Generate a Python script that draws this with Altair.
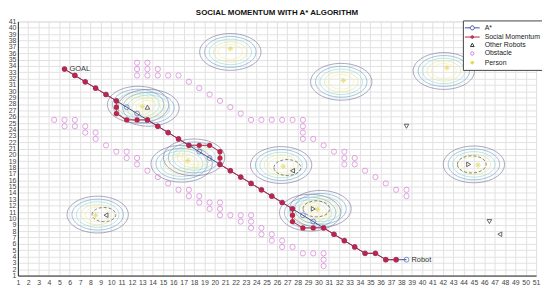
import altair as alt
import pandas as pd

# ---------------- data ----------------
obs_x = [4.5, 5.5, 6.5, 5.5, 6.5, 7.5, 7.5, 8.5, 8.5, 9.5, 10.5, 11.5, 11.5, 12.5, 12.5,
         13.5, 14.5, 15.5, 16.5, 17.5, 17.5, 18.5, 18.5, 19.5, 20.5, 19.5, 20.5, 20.5,
         21.5, 22.5, 23.5, 22.5, 23.5, 23.5, 24.5, 24.5, 25.5, 25.5, 26.5, 26.5, 27.5,
         28.5, 29.5, 30.5, 30.5, 30.5,
         12.5, 13.5, 12.5, 13.5, 14.5, 12.5, 13.5, 14.5, 15.5, 16.5, 17.5, 18.5, 19.5,
         20.5, 21.5, 22.5, 23.5, 24.5, 25.5, 26.5, 27.5, 28.5, 28.5, 28.5, 28.5, 29.5,
         30.5, 31.5, 32.5, 32.5, 33.5, 32.5, 33.5, 34.5, 35.5, 36.5, 37.5, 38.5, 38.5]
obs_y = [25.5, 25.5, 25.5, 24.5, 24.5, 24.5, 23.5, 23.5, 22.5, 21.5, 20.5, 20.5, 19.5, 19.5, 18.5,
         17.5, 16.5, 15.5, 14.5, 14.5, 13.5, 13.5, 12.5, 12.5, 12.5, 11.5, 11.5, 10.5,
         10.5, 10.5, 10.5, 9.5, 9.5, 8.5, 8.5, 7.5, 7.5, 6.5, 6.5, 5.5, 5.5,
         4.5, 4.5, 4.5, 3.5, 2.5,
         34.5, 34.5, 33.5, 33.5, 33.5, 32.5, 32.5, 32.5, 32.5, 32.5, 31.5, 30.5, 29.5,
         28.5, 27.5, 26.5, 25.5, 25.5, 25.5, 25.5, 25.5, 25.5, 24.5, 23.5, 22.5, 22.5,
         21.5, 20.5, 20.5, 19.5, 19.5, 18.5, 18.5, 17.5, 16.5, 15.5, 14.5, 14.5, 13.5]

sm_x = [5.5, 6.5, 7.5, 8.5, 9.5, 10.5, 10.5, 10.5, 11.5, 12.5, 13.5, 14.5, 15.5, 16.5,
        17.5, 18.5, 19.5, 20.5, 20.5, 20.5, 21.5, 22.5, 23.5, 24.5, 25.5, 26.5, 27.5,
        27.5, 27.5, 28.5, 29.5, 30.5, 31.5, 32.5, 33.5, 34.5, 35.5, 36.5, 37.5]
sm_y = [33.5, 32.5, 31.5, 30.5, 29.5, 28.5, 27.5, 26.5, 25.5, 25.5, 25.5, 24.5, 23.5, 22.5,
        21.5, 21.5, 21.5, 20.5, 19.5, 18.5, 17.5, 16.5, 15.5, 14.5, 13.5, 12.5, 11.5,
        10.5, 9.5, 8.5, 8.5, 8.5, 7.5, 6.5, 5.5, 4.5, 4.5, 3.5, 3.5]

astar_x = [38.5, 37.5, 36.5, 35.5, 34.5, 33.5, 32.5, 31.5, 30.5, 29.5, 28.5, 27.5, 26.5,
           25.5, 24.5, 23.5, 22.5, 21.5, 20.5, 19.5, 18.5, 17.5, 16.5, 15.5, 14.5, 13.5,
           12.5, 11.5, 10.5, 9.5, 8.5, 7.5, 6.5, 5.5]
astar_y = [3.5, 3.5, 3.5, 4.5, 4.5, 5.5, 6.5, 7.5, 8.5, 9.5, 10.5, 11.5, 12.5,
           13.5, 14.5, 15.5, 16.5, 17.5, 18.5, 19.5, 20.5, 21.5, 22.5, 23.5, 24.5, 25.5,
           26.5, 27.5, 28.5, 29.5, 30.5, 31.5, 32.5, 33.5]

robot_x = [13.5, 9.5, 27.5, 29.5, 44.5, 46.5, 47.5, 38.5]
robot_y = [27.5, 10.5, 17.5, 11.5, 18.5, 9.5, 7.5, 24.5]
robot_dir = ["triangle-up", "triangle-left", "triangle-left", "triangle-right",
             "triangle-right", "triangle-down", "triangle-left", "triangle-down"]

person_cx = [21.5, 32.2, 42.1, 12.6, 13.6, 16.8, 18.0, 26.4, 8.7, 29.2, 30.2, 45.0]
person_cy = [36.2, 31.5, 33.2, 27.9, 27.4, 18.6, 19.6, 18.4, 10.6, 10.9, 11.5, 18.5]
ring_w = [62, 52, 43, 34, 25]
ring_col = ["#77749c", "#6aa3c8", "#95d6d6", "#dce6a2", "#f5ef9c"]

star_x = [21.5, 32.4, 42.4, 13.0, 17.4, 26.6, 8.5, 29.9, 45.4]
star_y = [36.7, 31.7, 33.7, 27.6, 19.1, 18.2, 10.5, 11.4, 18.4]

dash_x = [9.3, 27.0, 29.8, 44.8]
dash_y = [10.6, 18.0, 11.5, 18.5]
dash_w = [24, 27, 27, 29]

labels_text = ["GOAL", "Robot"]
labels_x = [5.5, 38.5]
labels_y = [33.5, 3.5]

legend_names = ["A*", "Social Momentum", "Other Robots", "Obstacle", "Person"]
legend_colors = ["#3f4f9f", "#b8264a", "#333333", "#cf70d2", "#e3d440"]

# ---------------- tables ----------------
obs = pd.DataFrame({"x": obs_x, "y": obs_y})
sm = pd.DataFrame({"x": sm_x, "y": sm_y, "i": range(len(sm_x))})
astar = pd.DataFrame({"x": astar_x, "y": astar_y, "i": range(len(astar_x))})
robots = pd.DataFrame({"x": robot_x, "y": robot_y, "dir": robot_dir})
rows = []
for cx, cy in zip(person_cx, person_cy):
    for w, c in zip(ring_w, ring_col):
        rows.append({"x": cx, "y": cy, "size": w * w, "col": c})
rings = pd.DataFrame(rows)
stars = pd.DataFrame({"x": star_x, "y": star_y})
dashes = pd.DataFrame({"x": dash_x, "y": dash_y, "size": [w * w for w in dash_w]})
labels = pd.DataFrame({"x": labels_x, "y": labels_y, "t": labels_text})
leg = pd.DataFrame({"name": legend_names})

FONT = "Liberation Sans"
ELLIPSE = "M-1,0A1,0.6,0,1,1,1,0A1,0.6,0,1,1,-1,0Z"
STAR = "M-1,0L1,0M0,-1L0,1M-0.7,-0.7L0.7,0.7M-0.7,0.7L0.7,-0.7"

X = alt.X("x:Q", scale=alt.Scale(domain=[1, 51], nice=False, zero=False),
          axis=alt.Axis(values=list(range(1, 52)), title=None, labelFontSize=7, labelFont=FONT,
                        grid=True, ticks=False, labelPadding=3, domainColor="#262626",
                        gridColor="#e2e2e2", labelColor="#444444", labelOverlap=False,
                        labelFlush=False))
Y = alt.Y("y:Q", scale=alt.Scale(domain=[1, 41], nice=False, zero=False),
          axis=alt.Axis(values=list(range(1, 42)), title=None, labelFontSize=7, labelFont=FONT,
                        grid=True, ticks=False, labelPadding=2, domainColor="#262626",
                        gridColor="#e2e2e2", labelColor="#444444", labelOverlap=False,
                        labelFlush=False))

ring_layer = alt.Chart(rings).mark_point(shape=ELLIPSE, filled=False, strokeWidth=0.9).encode(
    x=X, y=Y, size=alt.Size("size:Q", scale=None), color=alt.Color("col:N", scale=None))

dash_layer = alt.Chart(dashes).mark_point(shape=ELLIPSE, filled=False, strokeWidth=0.9,
                                          color="#444444", strokeDash=[3, 2]).encode(
    x=X, y=Y, size=alt.Size("size:Q", scale=None))

obs_layer = alt.Chart(obs).mark_point(shape="circle", filled=False, size=28, strokeWidth=1,
                                      color="#d47ad6").encode(x=X, y=Y)

star_layer = alt.Chart(stars).mark_point(shape=STAR, filled=False, size=30, strokeWidth=1,
                                         color="#e3d440").encode(x=X, y=Y)

robot_layer = alt.Chart(robots).mark_point(filled=False, size=22, strokeWidth=1,
                                           color="#222222").encode(
    x=X, y=Y, shape=alt.Shape("dir:N", scale=None))

astar_line = alt.Chart(astar).mark_line(color="#3f4f9f", strokeWidth=1).encode(
    x=X, y=Y, order="i:Q")
astar_pts = alt.Chart(astar).mark_point(shape="circle", filled=False, size=24, strokeWidth=1,
                                        color="#4f62b8").encode(x=X, y=Y)

sm_line = alt.Chart(sm).mark_line(color="#b8264a", strokeWidth=1).encode(
    x=X, y=Y, order="i:Q")
sm_pts = alt.Chart(sm).mark_point(shape="circle", filled=True, size=28, opacity=1,
                                  color="#b8264a").encode(x=X, y=Y)

text_layer = alt.Chart(labels).mark_text(align="left", dx=5, dy=0, fontSize=7.5, font=FONT,
                                         color="#333333").encode(x=X, y=Y, text="t:N")

LEG_SHAPES = [
    "M-2,0L-0.55,0M0.55,0L2,0M-0.55,0A0.55,0.55,0,1,0,0.55,0A0.55,0.55,0,1,0,-0.55,0",
    "M-2,0L2,0M-0.38,0A0.38,0.38,0,1,0,0.38,0A0.38,0.38,0,1,0,-0.38,0M-0.2,0A0.2,0.2,0,1,0,0.2,0A0.2,0.2,0,1,0,-0.2,0",
    "M0,-0.55L0.5,0.35L-0.5,0.35Z",
    "M-0.45,0A0.45,0.45,0,1,0,0.45,0A0.45,0.45,0,1,0,-0.45,0",
    "M-0.5,0L0.5,0M0,-0.5L0,0.5M-0.35,-0.35L0.35,0.35M-0.35,0.35L0.35,-0.35",
]

legend_layer = alt.Chart(leg).mark_point(filled=False, opacity=0, strokeWidth=1).encode(
    x=alt.value(0), y=alt.value(0),
    color=alt.Color("name:N", scale=alt.Scale(domain=legend_names, range=legend_colors),
                    legend=alt.Legend(title=None, orient="none", legendX=450, legendY=-1)),
    shape=alt.Shape("name:N", scale=alt.Scale(domain=legend_names, range=LEG_SHAPES),
                    legend=alt.Legend(title=None, orient="none", legendX=450, legendY=-1)),
)

chart = alt.layer(
    ring_layer, dash_layer, obs_layer, star_layer, robot_layer,
    astar_line, astar_pts, sm_line, sm_pts, text_layer, legend_layer
).properties(
    width=524, height=257,
    autosize=alt.AutoSizeParams(type="none"),
    padding={"left": 10, "top": 12, "right": 6, "bottom": 12},
    title=alt.Title("SOCIAL MOMENTUM WITH A* ALGORITHM", fontSize=8, font=FONT,
                    fontWeight="bold", offset=1, color="#111111"),
).configure_view(stroke="#e2e2e2").configure_legend(
    fillColor="white", strokeColor="#444444", padding=3, labelFontSize=7, labelFont=FONT,
    labelColor="#222222", symbolSize=56, symbolStrokeWidth=1, symbolOpacity=1,
    labelOffset=8, symbolOffset=2, rowPadding=0.3, cornerRadius=0, labelLimit=120
)

chart.save("out.html", embed_options={"renderer": "svg", "actions": False})
